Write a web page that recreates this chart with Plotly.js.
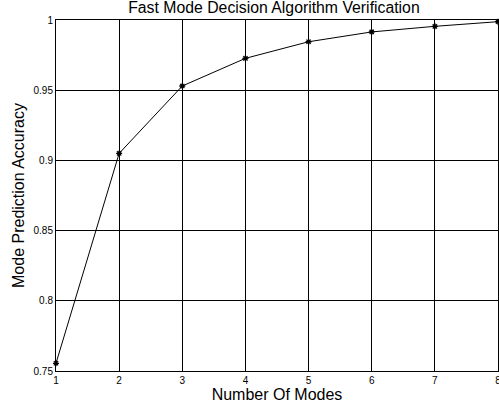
<!DOCTYPE html>
<html>
<head>
<meta charset="utf-8">
<script src="https://cdn.plot.ly/plotly-3.0.1.min.js"></script>
<style>html,body{margin:0;padding:0;background:#fff;}#chart{width:499px;height:411px;}</style>
</head>
<body>
<div id="chart"></div>
<script>
const numModes = [1, 2, 3, 4, 5, 6, 7, 8];
const accuracy = [0.7555, 0.905, 0.953, 0.9727, 0.9845, 0.9915, 0.9955, 0.9988];
const xTicks = [1, 2, 3, 4, 5, 6, 7, 8];
const yTicks = [0.75, 0.8, 0.85, 0.9, 0.95, 1];
const yTickLabels = ['0.75', '0.8', '0.85', '0.9', '0.95', '1'];

const trace = {
  x: numModes, y: accuracy, type: 'scatter', mode: 'lines+markers',
  line: {color: '#000', width: 1},
  marker: {symbol: 'asterisk-open', size: 5, color: '#000', line: {color: '#000', width: 1.3}},
  cliponaxis: false, hoverinfo: 'none'
};
const fontFam = 'Liberation Sans, Arial, Helvetica, sans-serif';
const layout = {
  width: 499, height: 411,
  margin: {l: 55.5, r: 1, t: 20, b: 40},
  paper_bgcolor: '#fff', plot_bgcolor: '#fff',
  showlegend: false,
  font: {family: fontFam, color: '#000'},
  title: {text: 'Fast Mode Decision Algorithm Verification', font: {size: 15.8, family: fontFam, color: '#000'}, x: 0.549, xanchor: 'center', y: 0.981, yanchor: 'middle'},
  xaxis: {
    range: [1, 8], tickvals: xTicks, ticktext: xTicks.map(String),
    showgrid: true, gridcolor: '#000', gridwidth: 1,
    showline: true, linecolor: '#000', linewidth: 1, mirror: true,
    ticks: 'inside', ticklen: 4, tickcolor: '#000',
    ticklabeloverflow: 'allow',
    tickfont: {size: 10, family: fontFam}, zeroline: false,
    title: {text: 'Number Of Modes', font: {size: 16, family: fontFam}, standoff: 2}
  },
  yaxis: {
    range: [0.75, 1], tickvals: yTicks, ticktext: yTickLabels,
    showgrid: true, gridcolor: '#000', gridwidth: 1,
    showline: true, linecolor: '#000', linewidth: 1, mirror: true,
    ticks: 'inside', ticklen: 4, tickcolor: '#000',
    ticklabeloverflow: 'allow',
    tickfont: {size: 10, family: fontFam}, zeroline: false,
    title: {text: 'Mode Prediction Accuracy', font: {size: 16, family: fontFam}, standoff: 4}
  }
};
Plotly.newPlot('chart', [trace], layout, {staticPlot: true, displayModeBar: false});
</script>
</body>
</html>
